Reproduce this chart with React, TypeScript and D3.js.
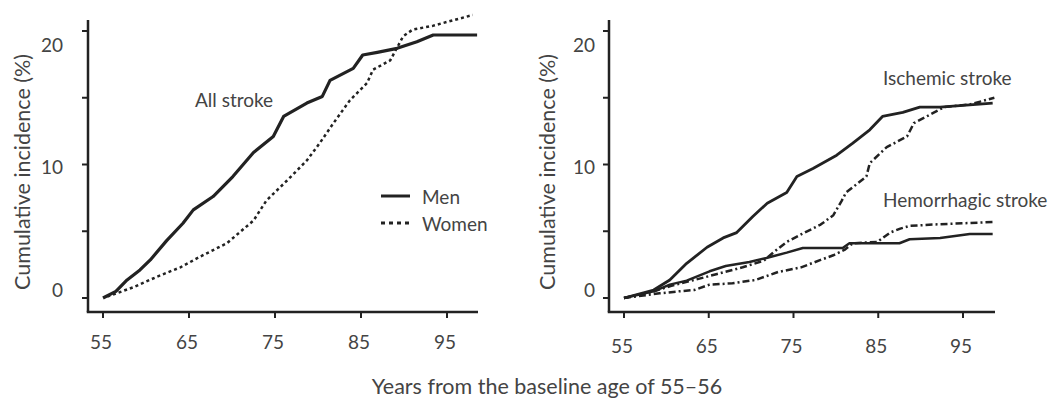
import * as d3 from 'd3';

// cumulative incidence (%) by age
const allStrokeMen: [number, number][] = [
  [55, 0], [56.5, 0.5], [57.8, 1.35], [59.3, 2.1], [60.5, 2.85], [62.4, 4.3], [64.3, 5.6],
  [65.5, 6.6], [67.8, 7.6], [70.1, 9.1], [72.5, 10.9], [74.8, 12.1], [76, 13.6],
  [78.7, 14.6], [80.5, 15.1], [81.4, 16.3], [84.1, 17.2], [85.2, 18.2], [86.9, 18.4],
  [89.2, 18.7], [91.5, 19.2], [93.4, 19.7], [98.5, 19.7],
];
const allStrokeWomen: [number, number][] = [
  [55.5, 0.1], [58.5, 0.8], [61.3, 1.6], [64, 2.3], [66.3, 3.1], [69.4, 4.1], [72.5, 5.8],
  [74, 7.3], [76.4, 8.8], [78.7, 10.3], [80.2, 11.6], [81.8, 13.1], [83.7, 14.8],
  [85.7, 16.1], [86.4, 17.1], [88.4, 17.8], [89.9, 19.6], [91, 20.1], [93.4, 20.4],
  [98, 21.2],
];
const ischemicMen: [number, number][] = [
  [55, 0], [58.5, 0.6], [60.4, 1.35], [62.4, 2.6], [64.8, 3.8], [66.7, 4.5], [68.3, 4.9],
  [70.2, 6.1], [71.9, 7.1], [74.2, 7.9], [75.4, 9.1], [77.3, 9.7], [80.1, 10.7],
  [82, 11.6], [84, 12.6], [85.5, 13.6], [87.9, 13.9], [89.9, 14.3], [92.3, 14.3],
  [98.5, 14.6],
];
const ischemicWomen: [number, number][] = [
  [55, 0], [58, 0.4], [60.5, 0.9], [63, 1.3], [66, 1.8], [69, 2.3], [71.5, 2.8],
  [72.6, 3.4], [74.2, 4.2], [76, 4.8], [78.2, 5.5], [79.7, 6.2], [80.7, 7.3], [81.2, 7.9],
  [83.6, 9.1], [84, 10.1], [86, 11.3], [88.4, 12.1], [89.2, 13.1], [91.6, 13.9],
  [92.8, 14.3], [95.8, 14.5], [98.7, 15.0],
];
const hemorrhagicMen: [number, number][] = [
  [55, 0], [58.5, 0.5], [60.4, 1.0], [62.4, 1.3], [65.1, 2.0], [67, 2.4], [69.8, 2.7],
  [71.8, 3.0], [74.2, 3.4], [76.1, 3.75], [80.8, 3.75], [81.6, 4.1], [87.5, 4.1],
  [88.7, 4.4], [92.3, 4.5], [95.8, 4.8], [98.5, 4.8],
];
const hemorrhagicWomen: [number, number][] = [
  [55, 0], [59.2, 0.35], [61.5, 0.5], [63.3, 0.6], [65.1, 1.0], [67.8, 1.1], [70.5, 1.35],
  [73.2, 1.95], [75.9, 2.3], [78.2, 2.85], [79.7, 3.2], [81, 3.6], [82, 4.1], [84.9, 4.2],
  [86.4, 4.9], [87.6, 5.2], [88.7, 5.4], [91.4, 5.5], [98.8, 5.7],
];

const xTicks = [55, 65, 75, 85, 95];
const yTicks = [0, 5, 10, 15, 20];
const yLabels = [0, 10, 20];

const FONT = "Lato, 'Open Sans', sans-serif";
const INK = '#222';
const TEXT = '#444';

interface Series {
  data: [number, number][];
  dash?: string;
  width: number;
}

interface PanelProps {
  x0: number;
  x1: number;
  axisX: number;
  axisEnd: number;
  labelRight: number;
  tickLabelY: number;
  titleX: number;
  series: Series[];
  children?: React.ReactNode;
}

function Panel({ x0, x1, axisX, axisEnd, labelRight, tickLabelY, titleX, series, children }: PanelProps) {
  const x = d3.scaleLinear().domain([55, 95]).range([x0, x1]);
  const y = d3.scaleLinear().domain([0, 20]).range([298, 31]);
  // tick labels in the original sit on a slightly compressed scale
  const yl = d3.scaleLinear().domain([0, 20]).range([290, 45]);
  const axisY = 312;
  const line = d3.line<[number, number]>().x(d => x(d[0])).y(d => y(d[1]));

  return (
    <g>
      {series.map((s, i) => (
        <path key={i} d={line(s.data) || ''} fill="none" stroke={INK}
          strokeWidth={s.width} strokeDasharray={s.dash} strokeLinejoin="round" />
      ))}
      <line x1={axisX} x2={axisX} y1={20} y2={axisY} stroke={INK} strokeWidth={2.5} />
      <line x1={axisX - 1.25} x2={axisEnd} y1={axisY} y2={axisY} stroke={INK} strokeWidth={2.5} />
      {yTicks.map(t => (
        <line key={t} x1={axisX - 6} x2={axisX} y1={y(t)} y2={y(t)} stroke={INK} strokeWidth={2} />
      ))}
      {xTicks.map(t => (
        <line key={t} x1={x(t)} x2={x(t)} y1={axisY} y2={axisY + 6} stroke={INK} strokeWidth={2} />
      ))}
      {yLabels.map(t => (
        <text key={t} x={labelRight} y={yl(t)} dy="0.35em" textAnchor="end"
          fontSize={19} fill={TEXT} fontFamily={FONT}>{t}</text>
      ))}
      {xTicks.map(t => (
        <text key={t} x={x(t) - 2} y={tickLabelY} dy="0.35em" textAnchor="middle"
          fontSize={19} fill={TEXT} fontFamily={FONT}>{t}</text>
      ))}
      <text transform={`translate(${titleX},172) rotate(-90)`} dy="0.35em" textAnchor="middle"
        fontSize={21.5} fill={TEXT} fontFamily={FONT}>Cumulative incidence (%)</text>
      {children}
    </g>
  );
}

export default function App() {
  return (
    <svg width={1049} height={398} style={{ position: 'absolute', left: 0, top: 0, background: '#fff' }}>
      <Panel x0={103} x1={447} axisX={88} axisEnd={478} labelRight={63} tickLabelY={342} titleX={22}
        series={[
          { data: allStrokeWomen, dash: '3 3', width: 2.5 },
          { data: allStrokeMen, width: 3.2 },
        ]}>
        <text x={195} y={100} dy="0.35em" fontSize={19} fill={TEXT} fontFamily={FONT}>All stroke</text>
        <line x1={381} x2={410} y1={196} y2={196} stroke={INK} strokeWidth={3} />
        <line x1={381} x2={410} y1={223} y2={223} stroke={INK} strokeWidth={3} strokeDasharray="4 4" />
        <text x={422} y={197} dy="0.35em" fontSize={19} fill={TEXT} fontFamily={FONT}>Men</text>
        <text x={422} y={224} dy="0.35em" fontSize={19} fill={TEXT} fontFamily={FONT}>Women</text>
      </Panel>
      <Panel x0={624} x1={963} axisX={609} axisEnd={995} labelRight={595} tickLabelY={346} titleX={547}
        series={[
          { data: hemorrhagicWomen, dash: '7 3 2 3', width: 2.5 },
          { data: ischemicWomen, dash: '7 3 2 3', width: 2.5 },
          { data: hemorrhagicMen, width: 2.5 },
          { data: ischemicMen, width: 2.8 },
        ]}>
        <text x={883} y={78} dy="0.35em" fontSize={19} fill={TEXT} fontFamily={FONT}>Ischemic stroke</text>
        <text x={883} y={200} dy="0.35em" fontSize={19} fill={TEXT} fontFamily={FONT}>Hemorrhagic stroke</text>
      </Panel>
      <text x={547} y={386} dy="0.35em" textAnchor="middle" fontSize={21.5} fill={TEXT} fontFamily={FONT}>
        Years from the baseline age of 55–56
      </text>
    </svg>
  );
}
